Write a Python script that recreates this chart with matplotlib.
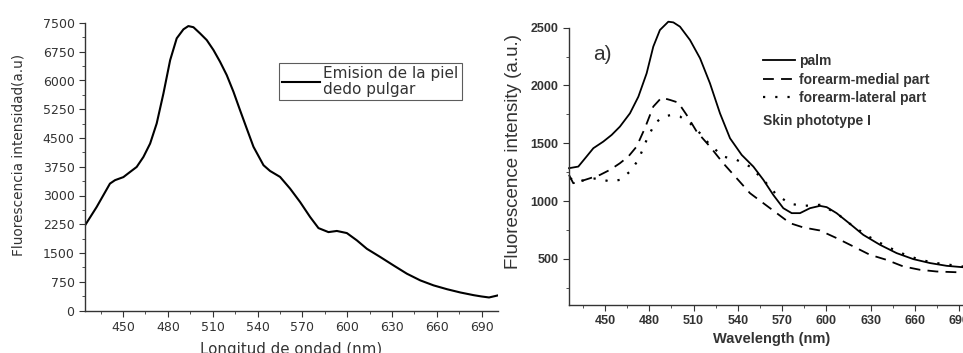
import matplotlib.pyplot as plt
from matplotlib.ticker import MultipleLocator

plt.rcParams['font.family'] = ['DejaVu Sans']
RIGHT_FONT = ['Liberation Sans', 'DejaVu Sans']

# left panel: thumb skin emission
thumb_nm = [424.5, 432.3, 441.2, 444.6, 450.2, 454.7, 459.1, 463.6, 468.1, 472.5,
            477.0, 481.5, 485.9, 490.4, 493.7, 497.1, 501.5, 506.0, 510.5, 514.9,
            519.4, 523.9, 528.3, 532.8, 537.3, 544.0, 548.4, 555.1, 561.8, 568.5,
            575.2, 580.8, 587.5, 593.1, 599.8, 606.5, 613.2, 622.2, 631.1, 640.0,
            649.0, 657.9, 666.9, 675.8, 684.7, 690.0, 695.0, 700.5]
thumb_int = [2220, 2700, 3310, 3400, 3480, 3615, 3745, 4005, 4355, 4880,
             5660, 6530, 7100, 7335, 7420, 7390, 7230, 7055, 6795, 6490,
             6140, 5705, 5225, 4745, 4270, 3790, 3640, 3485, 3180, 2830,
             2440, 2150, 2045, 2075, 2020, 1830, 1610, 1395, 1175, 960,
             785, 655, 555, 470, 400, 366, 340, 390]

# right panel: skin phototype I
palm_nm = [425.6, 431.9, 437.5, 442.1, 448.8, 454.5, 460.1, 466.9, 472.6, 478.2,
           482.7, 487.2, 492.9, 496.3, 500.8, 507.6, 514.4, 521.1, 527.9, 534.7,
           542.6, 550.5, 557.3, 564.0, 570.8, 576.5, 582.1, 588.9, 595.6, 600.2,
           606.9, 615.9, 625.0, 636.3, 647.6, 658.9, 670.2, 681.5, 691.6, 700.0]
palm_int = [1284, 1298, 1385, 1457, 1514, 1572, 1644, 1759, 1903, 2105,
            2336, 2480, 2552, 2546, 2509, 2393, 2235, 2019, 1759, 1543,
            1399, 1298, 1183, 1053, 938, 895, 895, 938, 958, 947,
            895, 803, 707, 621, 549, 497, 463, 439, 428, 420]

medial_nm = [425.6, 428.5, 433.0, 439.8, 446.6, 453.4, 460.1, 465.8, 471.4, 477.0,
             482.7, 488.3, 494.0, 499.6, 505.3, 512.1, 521.1, 530.1, 539.2, 548.2,
             557.3, 566.3, 575.4, 584.4, 595.6, 606.9, 618.2, 629.4, 640.7, 652.0,
             663.3, 674.6, 691.6, 700.0]
medial_int = [1226, 1154, 1169, 1197, 1226, 1270, 1327, 1385, 1471, 1630,
              1817, 1895, 1875, 1852, 1745, 1601, 1471, 1327, 1197, 1068,
              981, 895, 808, 771, 745, 679, 607, 535, 491, 434,
              405, 390, 382, 380]

lateral_nm = [426.3, 430.8, 437.5, 444.3, 453.4, 460.1, 466.9, 472.6, 478.2, 483.8,
              489.5, 495.1, 500.8, 507.6, 514.4, 521.1, 530.1, 539.2, 548.2, 557.3,
              566.3, 575.4, 584.4, 595.6, 606.9, 618.2, 629.4, 640.7, 652.0, 663.3,
              674.6, 691.6, 700.0]
lateral_int = [1197, 1169, 1183, 1197, 1169, 1183, 1255, 1356, 1529, 1673,
               1731, 1745, 1731, 1673, 1586, 1486, 1385, 1356, 1298, 1183,
               1053, 976, 958, 967, 895, 780, 687, 607, 543, 491,
               463, 434, 430]

fig = plt.figure(figsize=(9.63, 3.53), dpi=100)
grey = '#333333'

# ---- left ----
axl = fig.add_axes([85 / 963, 1 - 310.5 / 353, 413 / 963, 287.5 / 353])
axl.plot(thumb_nm, thumb_int, color='black', lw=1.5, label='Emision de la piel\ndedo pulgar')
axl.set_xlim(424.5, 701)
axl.set_ylim(0, 7500)
axl.xaxis.set_major_locator(MultipleLocator(30))
axl.xaxis.set_minor_locator(MultipleLocator(15))
axl.yaxis.set_major_locator(MultipleLocator(750))
axl.yaxis.set_minor_locator(MultipleLocator(375))
for s in ['top', 'right']:
    axl.spines[s].set_visible(False)
for s in ['left', 'bottom']:
    axl.spines[s].set_color(grey)
    axl.spines[s].set_linewidth(1.0)
axl.tick_params(which='both', direction='out', colors=grey, labelsize=9)
axl.tick_params(which='major', length=4)
axl.tick_params(which='minor', length=2.5)
axl.set_ylabel('Fluorescencia intensidad(a.u)', fontsize=9.8, color=grey)
axl.yaxis.set_label_coords(-0.145, 0.54)
axl.set_xlabel('Longitud de ondad (nm)', fontsize=10.8, color=grey, labelpad=6)
leg = axl.legend(loc='upper left', bbox_to_anchor=(0.47, 0.861), frameon=True,
                 fancybox=False, edgecolor=grey, fontsize=11, handlelength=2.5,
                 handletextpad=0.2, borderpad=0.2, borderaxespad=0)
leg.get_frame().set_linewidth(0.8)
for t in leg.get_texts():
    t.set_color(grey)
    t.set_linespacing(1.05)

# ---- right ----
axr = fig.add_axes([569 / 963, 1 - 305 / 353, 405 / 963, 277.3 / 353])
kw = dict(color='black', clip_on=False)
axr.plot(palm_nm, palm_int, lw=1.3, label='palm', **kw)
axr.plot(medial_nm, medial_int, lw=1.3, dashes=(6, 4), label='forearm-medial part', **kw)
axr.plot(lateral_nm, lateral_int, lw=1.6, dashes=(1, 4.5), label='forearm-lateral part', **kw)
axr.set_xlim(425.6, 700)
axr.set_ylim(100, 2500)
axr.xaxis.set_major_locator(MultipleLocator(30))
axr.xaxis.set_minor_locator(MultipleLocator(15))
axr.yaxis.set_major_locator(MultipleLocator(500))
axr.yaxis.set_minor_locator(MultipleLocator(250))
for s in ['top', 'right']:
    axr.spines[s].set_visible(False)
for s in ['left', 'bottom']:
    axr.spines[s].set_color(grey)
    axr.spines[s].set_linewidth(1.0)
axr.tick_params(which='both', direction='out', colors=grey, labelsize=9)
axr.tick_params(which='major', length=4)
axr.tick_params(which='minor', length=2.5)
for lab in axr.get_xticklabels() + axr.get_yticklabels():
    lab.set_fontweight('bold')
    lab.set_family(RIGHT_FONT)
axr.set_ylabel('Fluorescence intensity (a.u.)', fontsize=13.5, color=grey,
               family=RIGHT_FONT)
axr.yaxis.set_label_coords(-0.116, 0.552)
axr.set_xlabel('Wavelength (nm)', fontsize=10.5, fontweight='bold', color=grey, labelpad=3,
               family=RIGHT_FONT)
axr.text(0.06, 0.885, 'a)', transform=axr.transAxes, fontsize=15, color=grey,
         family=RIGHT_FONT)
legr = axr.legend(loc='upper left', bbox_to_anchor=(0.479, 0.905), frameon=False,
                  handlelength=2.3, handletextpad=0.3, labelspacing=0.33,
                  borderpad=0, borderaxespad=0,
                  prop={'weight': 'bold', 'size': 10, 'family': RIGHT_FONT})
for t in legr.get_texts():
    t.set_color(grey)
axr.text(0.479, 0.662, 'Skin phototype I', transform=axr.transAxes, fontsize=10,
         fontweight='bold', color=grey, va='center', family=RIGHT_FONT)

fig.savefig('out.png', dpi=100)
